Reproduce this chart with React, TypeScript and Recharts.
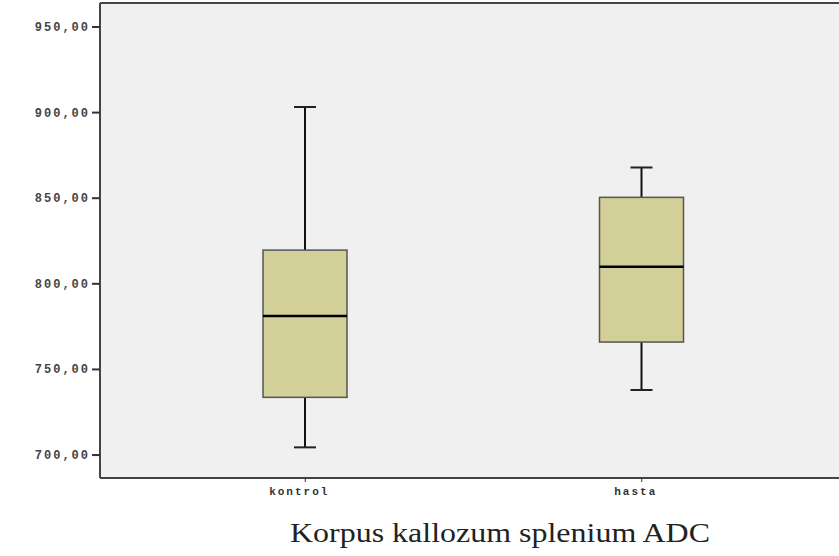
import { ComposedChart, Bar, XAxis, YAxis, CartesianGrid, ReferenceLine } from 'recharts'

// box plot summary per group
const groups = ['kontrol', 'hasta']
const whiskerLow = [704.5, 738]
const q1 = [733.7, 766]
const median = [781.2, 810]
const q3 = [819.7, 850.5]
const whiskerHigh = [903.3, 868]
const yTicks = [700, 750, 800, 850, 900, 950]
const yDomain = [686.6, 964]
const title = 'Korpus kallozum splenium ADC'

const data = groups.map((name, i) => ({
  name,
  min: whiskerLow[i],
  q1: q1[i],
  median: median[i],
  q3: q3[i],
  max: whiskerHigh[i],
}))

const monoFont = '"Liberation Mono", "DejaVu Sans Mono", monospace'

function BoxShape(props: any) {
  const { x, y, width, height, payload } = props
  const top = Math.min(y, y + height)
  const h = Math.abs(height)
  const k = h / (payload.max - payload.min)
  const py = (v: number) => top + (payload.max - v) * k
  const cx = x + width / 2
  const cap = 11
  return (
    <g>
      <line x1={cx} x2={cx} y1={py(payload.max)} y2={py(payload.q3)} stroke="#111" strokeWidth={2} />
      <line x1={cx} x2={cx} y1={py(payload.q1)} y2={py(payload.min)} stroke="#111" strokeWidth={2} />
      <line x1={cx - cap} x2={cx + cap} y1={py(payload.max)} y2={py(payload.max)} stroke="#222" strokeWidth={2} />
      <line x1={cx - cap} x2={cx + cap} y1={py(payload.min)} y2={py(payload.min)} stroke="#222" strokeWidth={2} />
      <rect
        x={x}
        y={py(payload.q3)}
        width={width}
        height={py(payload.q1) - py(payload.q3)}
        fill="#d3cf98"
        stroke="#555"
        strokeWidth={1.5}
      />
      <line x1={x} x2={x + width} y1={py(payload.median)} y2={py(payload.median)} stroke="#000" strokeWidth={2.5} />
    </g>
  )
}

function YTick({ x, y, payload }: any) {
  return (
    <text x={x} y={y} dy={4} textAnchor="end" fontFamily={monoFont} fontSize={12} fontWeight="bold" fill="#444" letterSpacing={2}>
      {payload.value.toFixed(2).replace('.', ',')}
    </text>
  )
}

function XTick({ x, y, payload }: any) {
  return (
    <text x={x - 6} y={y} dy={11} textAnchor="middle" fontFamily={monoFont} fontSize={11} fontWeight="bold" fill="#333" letterSpacing={2}>
      {payload.value}
    </text>
  )
}

export default function App() {
  return (
    <div style={{ position: 'absolute', left: 0, top: 0, width: 839, height: 556, background: '#fff' }}>
      <ComposedChart width={839} height={556} data={data} margin={{ top: 3, right: 0, bottom: 48, left: 0 }}>
        <CartesianGrid fill="#f0f0f0" horizontal={false} vertical={false} />
        <XAxis
          dataKey="name"
          padding={{ left: 37, right: 29 }}
          height={30}
          tickSize={4}
          tickMargin={2}
          tick={<XTick />}
          axisLine={{ stroke: '#444', strokeWidth: 2 }}
          tickLine={{ stroke: '#333' }}
        />
        <YAxis
          type="number"
          domain={yDomain}
          ticks={yTicks}
          width={100}
          tickSize={8}
          tickMargin={2}
          tick={<YTick />}
          axisLine={{ stroke: '#444', strokeWidth: 2 }}
          tickLine={{ stroke: '#333', strokeWidth: 2 }}
          allowDataOverflow
        />
        <ReferenceLine y={yDomain[1]} stroke="#444" strokeWidth={2} />
        <Bar
          dataKey={(d: any) => [d.min, d.max]}
          barSize={84}
          shape={<BoxShape />}
          isAnimationActive={false}
        />
      </ComposedChart>
      <svg width={839} height={556} style={{ position: 'absolute', left: 0, top: 0, pointerEvents: 'none' }}>
        <text
          x={290}
          y={542}
          textLength={420}
          lengthAdjust="spacingAndGlyphs"
          fontFamily='"Liberation Serif", "Times New Roman", serif'
          fontSize={27}
          fill="#222"
        >
          {title}
        </text>
      </svg>
    </div>
  )
}
